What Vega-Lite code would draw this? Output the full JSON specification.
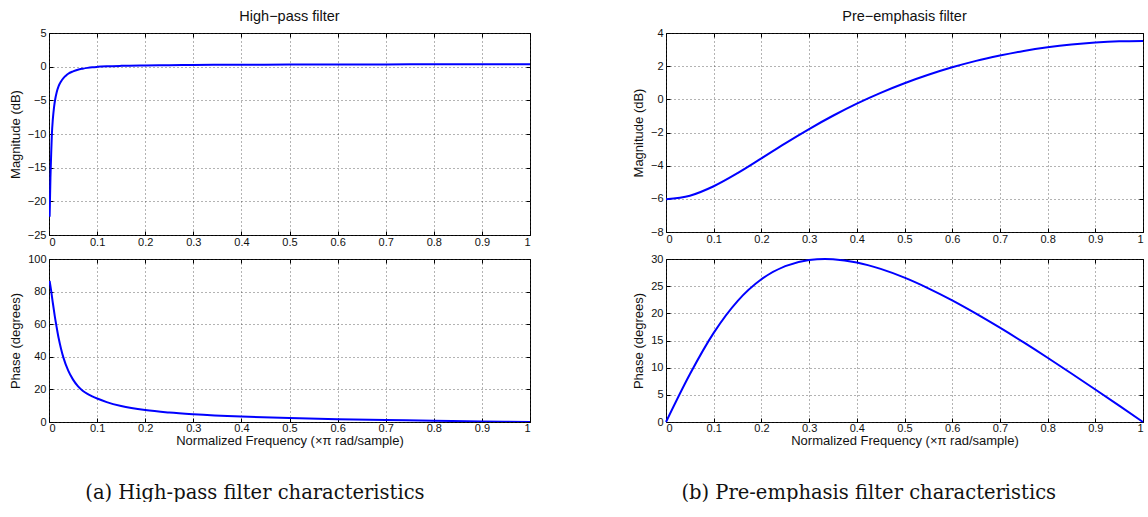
{
  "$schema": "https://vega.github.io/schema/vega-lite/v6.json",
  "background": "white",
  "padding": {"left": 8, "top": 8, "right": 0, "bottom": 0},
  "config": {
    "font": "Liberation Sans",
    "view": {"stroke": "black", "strokeWidth": 1},
    "axis": {
      "grid": true,
      "gridDash": [1, 3],
      "gridColor": "#333333",
      "gridOpacity": 0.75,
      "gridWidth": 1,
      "domain": false,
      "ticks": true,
      "tickSize": -4,
      "tickColor": "#000000",
      "tickWidth": 1,
      "labelFont": "Liberation Sans",
      "labelFontSize": 11,
      "labelColor": "#111111",
      "labelPadding": 7,
      "titleFont": "Liberation Sans",
      "titleFontSize": 13,
      "titleFontWeight": "normal",
      "titleColor": "#111111"
    },
    "axisY": {"titlePadding": 5},
    "axisX": {"titlePadding": 1, "labelPadding": 4},
    "title": {"font": "Liberation Sans", "fontSize": 14.5, "fontWeight": "normal", "color": "#111111", "offset": 3}
  },
  "datasets": {
    "hpMag": [
      {"f": 0.0013, "v": -22.3}, {"f": 0.003, "v": -16.5}, {"f": 0.0045, "v": -13}, {"f": 0.006, "v": -10},
      {"f": 0.008, "v": -7.8}, {"f": 0.0105, "v": -6}, {"f": 0.013, "v": -4.8}, {"f": 0.016, "v": -3.8},
      {"f": 0.02, "v": -2.9}, {"f": 0.025, "v": -2.2}, {"f": 0.03, "v": -1.7}, {"f": 0.035, "v": -1.35},
      {"f": 0.04, "v": -1.05}, {"f": 0.05, "v": -0.7}, {"f": 0.06, "v": -0.45}, {"f": 0.07, "v": -0.3},
      {"f": 0.08, "v": -0.18}, {"f": 0.09, "v": -0.09}, {"f": 0.1, "v": -0.03}, {"f": 0.12, "v": 0.05},
      {"f": 0.15, "v": 0.12}, {"f": 0.2, "v": 0.18}, {"f": 0.25, "v": 0.22}, {"f": 0.3, "v": 0.25},
      {"f": 0.4, "v": 0.29}, {"f": 0.5, "v": 0.31}, {"f": 0.6, "v": 0.33}, {"f": 0.7, "v": 0.34},
      {"f": 0.8, "v": 0.35}, {"f": 0.9, "v": 0.355}, {"f": 1, "v": 0.36}
    ],
    "hpPhase": [
      {"f": 0.0013, "v": 86.5}, {"f": 0.004, "v": 81.5}, {"f": 0.008, "v": 73}, {"f": 0.012, "v": 65},
      {"f": 0.016, "v": 58}, {"f": 0.02, "v": 51.5}, {"f": 0.025, "v": 45}, {"f": 0.03, "v": 39.5},
      {"f": 0.04, "v": 31.5}, {"f": 0.05, "v": 26}, {"f": 0.06, "v": 22}, {"f": 0.07, "v": 19.2},
      {"f": 0.08, "v": 17.2}, {"f": 0.09, "v": 15.7}, {"f": 0.1, "v": 14.4}, {"f": 0.12, "v": 12.2},
      {"f": 0.15, "v": 9.8}, {"f": 0.2, "v": 7.3}, {"f": 0.25, "v": 5.8}, {"f": 0.3, "v": 4.75},
      {"f": 0.4, "v": 3.3}, {"f": 0.5, "v": 2.4}, {"f": 0.6, "v": 1.75}, {"f": 0.7, "v": 1.25},
      {"f": 0.8, "v": 0.78}, {"f": 0.9, "v": 0.38}, {"f": 1, "v": 0}
    ],
    "peMag": [
      {"f": 0, "v": -6.02}, {"f": 0.05, "v": -5.81}, {"f": 0.1, "v": -5.24}, {"f": 0.15, "v": -4.45},
      {"f": 0.2, "v": -3.56}, {"f": 0.25, "v": -2.65}, {"f": 0.3, "v": -1.79}, {"f": 0.35, "v": -0.99},
      {"f": 0.4, "v": -0.26}, {"f": 0.45, "v": 0.39}, {"f": 0.5, "v": 0.97}, {"f": 0.55, "v": 1.48},
      {"f": 0.6, "v": 1.93}, {"f": 0.65, "v": 2.32}, {"f": 0.7, "v": 2.64}, {"f": 0.75, "v": 2.92},
      {"f": 0.8, "v": 3.14}, {"f": 0.85, "v": 3.31}, {"f": 0.9, "v": 3.43}, {"f": 0.95, "v": 3.5},
      {"f": 1, "v": 3.52}
    ],
    "pePhase": [
      {"f": 0, "v": 0}, {"f": 0.05, "v": 8.79}, {"f": 0.1, "v": 16.41}, {"f": 0.15, "v": 22.26},
      {"f": 0.2, "v": 26.27}, {"f": 0.25, "v": 28.68}, {"f": 0.3, "v": 29.81}, {"f": 0.3333, "v": 30},
      {"f": 0.35, "v": 29.95}, {"f": 0.4, "v": 29.36}, {"f": 0.45, "v": 28.18}, {"f": 0.5, "v": 26.57},
      {"f": 0.55, "v": 24.61}, {"f": 0.6, "v": 22.39}, {"f": 0.65, "v": 19.95}, {"f": 0.7, "v": 17.36},
      {"f": 0.75, "v": 14.64}, {"f": 0.8, "v": 11.82}, {"f": 0.85, "v": 8.92}, {"f": 0.9, "v": 5.98},
      {"f": 0.95, "v": 3}, {"f": 1, "v": 0}
    ]
  },
  "spacing": 100,
  "hconcat": [
    {
      "spacing": 4,
      "title": {"text": "(a) High-pass filter characteristics", "orient": "bottom", "anchor": "middle", "font": "DejaVu Serif", "fontSize": 19.5, "fontWeight": "normal", "color": "#111111", "offset": 36, "dx": -15},
      "vconcat": [
        {
          "width": 481, "height": 202,
          "title": {"text": "High−pass filter"},
          "data": {"name": "hpMag"},
          "resolve": {"axis": {"x": "independent", "y": "independent"}},
          "layer": [
            {
              "mark": {"type": "line", "color": "#0000ff", "strokeWidth": 2, "interpolate": "monotone", "clip": true},
              "encoding": {
                "x": {"field": "f", "type": "quantitative", "scale": {"domain": [0, 1], "nice": false, "zero": false},
                      "axis": {"values": [0, 0.1, 0.2, 0.3, 0.4, 0.5, 0.6, 0.7, 0.8, 0.9, 1], "format": "~g", "title": null, "labelPadding": 5}},
                "y": {"field": "v", "type": "quantitative", "scale": {"domain": [-25, 5], "nice": false, "zero": false},
                      "axis": {"values": [-25, -20, -15, -10, -5, 0, 5], "title": "Magnitude (dB)"}}
              }
            },
            {
              "mark": {"type": "line", "opacity": 0},
              "encoding": {
                "x": {"field": "f", "type": "quantitative", "axis": {"orient": "top", "values": [0, 0.1, 0.2, 0.3, 0.4, 0.5, 0.6, 0.7, 0.8, 0.9, 1], "labels": false, "grid": false, "title": null}},
                "y": {"field": "v", "type": "quantitative", "axis": {"orient": "right", "values": [-25, -20, -15, -10, -5, 0, 5], "labels": false, "grid": false, "title": null}}
              }
            }
          ]
        },
        {
          "width": 481, "height": 163,
          "data": {"name": "hpPhase"},
          "resolve": {"axis": {"x": "independent", "y": "independent"}},
          "layer": [
            {
              "mark": {"type": "line", "color": "#0000ff", "strokeWidth": 2, "interpolate": "monotone", "clip": true},
              "encoding": {
                "x": {"field": "f", "type": "quantitative", "scale": {"domain": [0, 1], "nice": false, "zero": false},
                      "axis": {"values": [0, 0.1, 0.2, 0.3, 0.4, 0.5, 0.6, 0.7, 0.8, 0.9, 1], "format": "~g", "title": "Normalized Frequency  (×π rad/sample)"}},
                "y": {"field": "v", "type": "quantitative", "scale": {"domain": [0, 100], "nice": false, "zero": false},
                      "axis": {"values": [0, 20, 40, 60, 80, 100], "title": "Phase (degrees)"}}
              }
            },
            {
              "mark": {"type": "line", "opacity": 0},
              "encoding": {
                "x": {"field": "f", "type": "quantitative", "axis": {"orient": "top", "values": [0, 0.1, 0.2, 0.3, 0.4, 0.5, 0.6, 0.7, 0.8, 0.9, 1], "labels": false, "grid": false, "title": null}},
                "y": {"field": "v", "type": "quantitative", "axis": {"orient": "right", "values": [0, 20, 40, 60, 80, 100], "labels": false, "grid": false, "title": null}}
              }
            }
          ]
        }
      ]
    },
    {
      "spacing": 7,
      "title": {"text": "(b) Pre-emphasis filter characteristics", "orient": "bottom", "anchor": "middle", "font": "DejaVu Serif", "fontSize": 19.5, "fontWeight": "normal", "color": "#111111", "offset": 36, "dx": -21},
      "vconcat": [
        {
          "width": 477, "height": 199,
          "title": {"text": "Pre−emphasis filter"},
          "data": {"name": "peMag"},
          "resolve": {"axis": {"x": "independent", "y": "independent"}},
          "layer": [
            {
              "mark": {"type": "line", "color": "#0000ff", "strokeWidth": 2, "interpolate": "monotone", "clip": true},
              "encoding": {
                "x": {"field": "f", "type": "quantitative", "scale": {"domain": [0, 1], "nice": false, "zero": false},
                      "axis": {"values": [0, 0.1, 0.2, 0.3, 0.4, 0.5, 0.6, 0.7, 0.8, 0.9, 1], "format": "~g", "title": null, "labelPadding": 5}},
                "y": {"field": "v", "type": "quantitative", "scale": {"domain": [-8, 4], "nice": false, "zero": false},
                      "axis": {"values": [-8, -6, -4, -2, 0, 2, 4], "title": "Magnitude (dB)"}}
              }
            },
            {
              "mark": {"type": "line", "opacity": 0},
              "encoding": {
                "x": {"field": "f", "type": "quantitative", "axis": {"orient": "top", "values": [0, 0.1, 0.2, 0.3, 0.4, 0.5, 0.6, 0.7, 0.8, 0.9, 1], "labels": false, "grid": false, "title": null}},
                "y": {"field": "v", "type": "quantitative", "axis": {"orient": "right", "values": [-8, -6, -4, -2, 0, 2, 4], "labels": false, "grid": false, "title": null}}
              }
            }
          ]
        },
        {
          "width": 477, "height": 163,
          "data": {"name": "pePhase"},
          "resolve": {"axis": {"x": "independent", "y": "independent"}},
          "layer": [
            {
              "mark": {"type": "line", "color": "#0000ff", "strokeWidth": 2, "interpolate": "monotone", "clip": false},
              "encoding": {
                "x": {"field": "f", "type": "quantitative", "scale": {"domain": [0, 1], "nice": false, "zero": false},
                      "axis": {"values": [0, 0.1, 0.2, 0.3, 0.4, 0.5, 0.6, 0.7, 0.8, 0.9, 1], "format": "~g", "title": "Normalized Frequency  (×π rad/sample)"}},
                "y": {"field": "v", "type": "quantitative", "scale": {"domain": [0, 30], "nice": false, "zero": false},
                      "axis": {"values": [0, 5, 10, 15, 20, 25, 30], "title": "Phase (degrees)"}}
              }
            },
            {
              "mark": {"type": "line", "opacity": 0},
              "encoding": {
                "x": {"field": "f", "type": "quantitative", "axis": {"orient": "top", "values": [0, 0.1, 0.2, 0.3, 0.4, 0.5, 0.6, 0.7, 0.8, 0.9, 1], "labels": false, "grid": false, "title": null}},
                "y": {"field": "v", "type": "quantitative", "axis": {"orient": "right", "values": [0, 5, 10, 15, 20, 25, 30], "labels": false, "grid": false, "title": null}}
              }
            }
          ]
        }
      ]
    }
  ]
}
